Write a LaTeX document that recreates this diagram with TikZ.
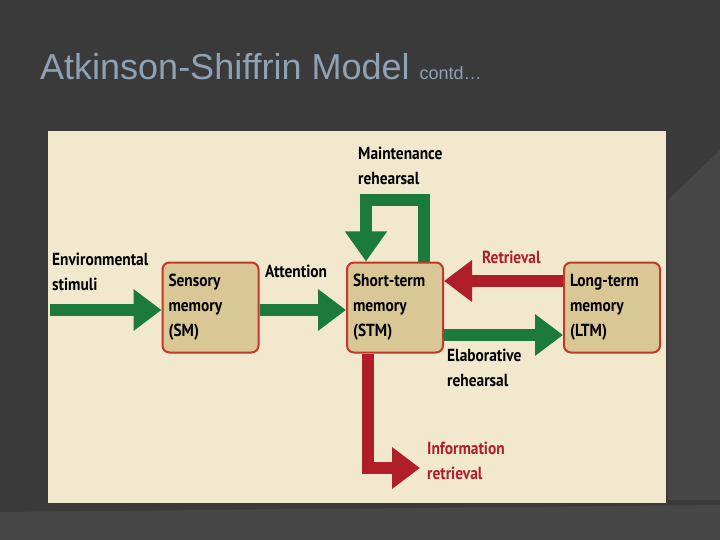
\documentclass[tikz,border=0pt]{standalone}
\usepackage{fontspec}
\setmainfont{Liberation Sans}
\newfontfamily\lab[FakeStretch=0.88]{PT Sans}
\usetikzlibrary{arrows.meta}
\definecolor{bg}{HTML}{3A3A3A}
\definecolor{bg2}{HTML}{474747}
\definecolor{panel}{HTML}{F1E8CD}
\definecolor{boxf}{HTML}{D9C795}
\definecolor{boxd}{HTML}{C0392B}
\definecolor{gr}{HTML}{1B7A3C}
\definecolor{rd}{HTML}{B01E2A}
\definecolor{ttl}{HTML}{8FA2B5}
\begin{document}
\begin{tikzpicture}[x=1pt,y=-1pt,
  mem/.style={draw=boxd,line width=2pt,fill=boxf,rounded corners=7pt,minimum width=96pt,minimum height=90pt,inner sep=0pt,text width=84pt,align=left,font=\lab\bfseries\fontsize{17.5}{25}\selectfont},
  lbl/.style={align=left,font=\lab\bfseries\fontsize{17.5}{25}\selectfont,inner sep=0pt,anchor=north west},
  garrow/.style={draw=gr,line width=12pt,-{Triangle[width=40pt,length=28pt]}},
  rarrow/.style={draw=rd,line width=12pt,-{Triangle[width=40pt,length=28pt]}}]
\useasboundingbox (0,0) rectangle (720,540);
\fill[bg] (0,0) rectangle (720,540);
\fill[bg2] (0,512) -- (720,505) -- (720,540) -- (0,540) -- cycle;
\fill[bg2] (668,200) -- (720,150) -- (720,500) -- (668,500) -- cycle;
\node[anchor=base west,text=ttl,font=\fontsize{36}{40}\selectfont,inner sep=0pt] (title) at (40,80) {Atkinson-Shiffrin Model {\fontsize{18}{20}\selectfont contd…}};
\fill[panel] (48,131) rectangle (666,503);
\node[mem] (sm) at (210.5,307.5) {Sensory\\memory\\(SM)};
\node[mem] (stm) at (395,307.5) {Short-term\\memory\\(STM)};
\node[mem] (ltm) at (612,307.5) {Long-term\\memory\\(LTM)};
\coordinate (env) at (50,310);
\draw[garrow] (env) -- (sm.west |- env);
\draw[garrow] (sm.east |- env) -- (stm.west |- env);
\coordinate (mtop) at (424,200);
\draw[garrow,-{Triangle[width=40pt,length=30pt]}] (stm.north -| mtop) -- (mtop) -- (366,200) -- (stm.north -| 366,0);
\draw[rarrow] (ltm.west |- 0,281) -- (stm.east |- 0,281);
\draw[garrow] (stm.east |- 0,335) -- (ltm.west |- 0,335);
\coordinate (info) at (420,468);
\draw[rarrow] (stm.south -| 368,0) -- (368,468) -- (info);
\node[lbl] (l1) at (52,253) {Environmental\\stimuli};
\node[lbl] (l2) at (265,265) {Attention};
\node[lbl] (l3) at (358,147) {Maintenance\\rehearsal};
\node[lbl,text=rd] (l4) at (482,251) {Retrieval};
\node[lbl] (l5) at (447,349) {Elaborative\\rehearsal};
\node[lbl,text=rd] (l6) at (427,442) {Information\\retrieval};
\end{tikzpicture}
\end{document}
